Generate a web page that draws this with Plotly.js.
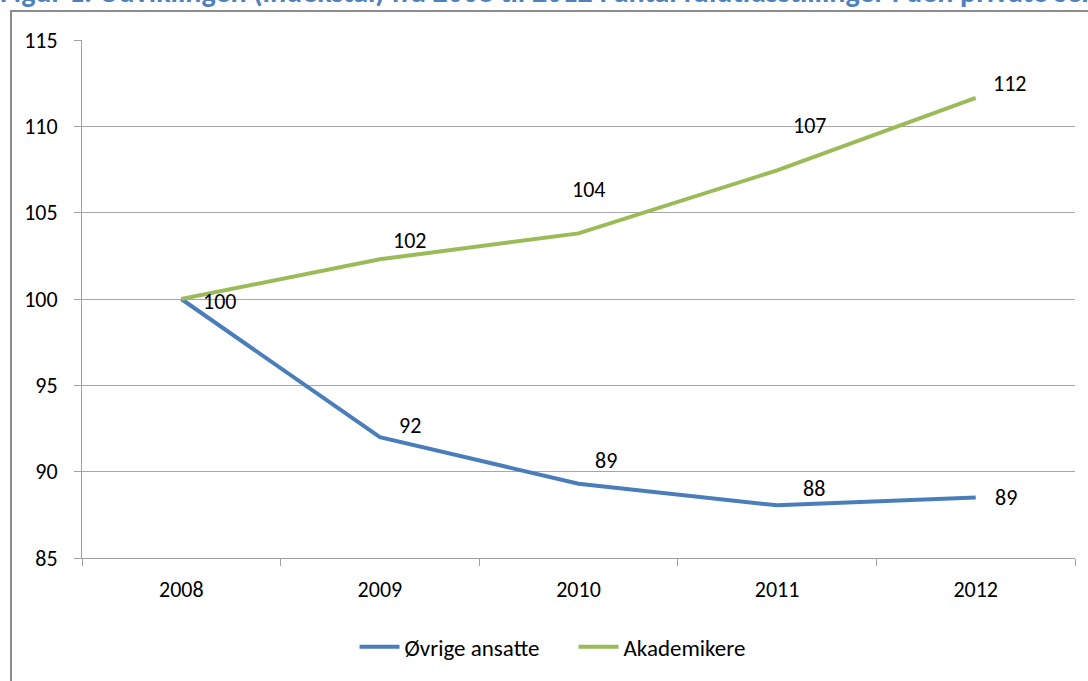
<!DOCTYPE html>
<html>
<head>
<meta charset="utf-8">
<script src="https://cdn.plot.ly/plotly-3.0.1.min.js"></script>
<style>html,body{margin:0;padding:0;background:#fff;}#chart{width:1088px;height:681px;}</style>
</head>
<body>
<div id="chart"></div>
<script>
const years = ['2008', '2009', '2010', '2011', '2012'];
const ovrigeAnsatte = [100, 92.0, 89.3, 88.05, 88.5];
const akademikere = [100, 102.3, 103.8, 107.45, 111.65];
const seriesNames = ['Øvrige ansatte', 'Akademikere'];
const titleText = 'Figur 1. Udviklingen (indekstal) fra 2008 til 2012 i antal fuldtidsstillinger i den private sektor';
const yTicks = [85, 90, 95, 100, 105, 110, 115];

// label pixel offsets (style only)
const blueLabelShift = [[null, null], [30, 12], [27, 23], [37, 17], [30, 0]];
const greenLabelShift = [[38, -2], [30, 19], [10, 44], [32, 45], [34, 14]];

const blue = '#4A7EBB';
const green = '#9BBB59';
const font = "Carlito, Calibri, 'Open Sans', sans-serif";

const traces = [
  {x: years, y: ovrigeAnsatte, name: seriesNames[0], type: 'scatter', mode: 'lines',
   line: {color: blue, width: 4}},
  {x: years, y: akademikere, name: seriesNames[1], type: 'scatter', mode: 'lines',
   line: {color: green, width: 4}}
];

const annotations = [];
function addLabels(vals, shifts) {
  vals.forEach((v, i) => {
    if (shifts[i][0] === null) return;
    annotations.push({x: i, y: v, xref: 'x', yref: 'y', text: String(Math.round(v)),
      showarrow: false, xshift: shifts[i][0], yshift: shifts[i][1],
      font: {family: font, size: 22, color: '#000'}});
  });
}
addLabels(ovrigeAnsatte, blueLabelShift);
addLabels(akademikere, greenLabelShift);

annotations.push({text: '<b>' + titleText + '</b>', xref: 'paper', yref: 'paper', x: -0.085, y: 1.0,
  xanchor: 'left', yanchor: 'bottom', yshift: 28, showarrow: false, align: 'left',
  font: {family: font, size: 30, color: '#4F81BD'}});

const layout = {
  width: 1088, height: 681,
  margin: {l: 82, r: 13, t: 40, b: 123},
  paper_bgcolor: '#fff', plot_bgcolor: '#fff',
  showlegend: true,
  legend: {orientation: 'h', x: 0.495, xanchor: 'center', y: -0.13, yanchor: 'top',
    font: {family: font, size: 23, color: '#000'}, itemwidth: 40, entrywidth: 164, traceorder: 'normal'},
  xaxis: {type: 'category', range: [-0.5, 4.5], showgrid: false, showline: true, linecolor: '#a0a0a0', linewidth: 1,
    ticks: 'outside', tickson: 'boundaries', ticklen: 7, tickcolor: '#a0a0a0', ticklabelstandoff: 12,
    tickfont: {family: font, size: 22, color: '#000'}, fixedrange: true},
  yaxis: {range: [85, 115], tickvals: yTicks, showgrid: true, gridcolor: '#a6a6a6', gridwidth: 1,
    showline: true, linecolor: '#a0a0a0', linewidth: 1, ticks: 'outside', ticklen: 7, tickcolor: '#a0a0a0',
    ticklabelstandoff: 12,
    tickfont: {family: font, size: 22, color: '#000'}, zeroline: false, fixedrange: true},
  annotations: annotations,
  shapes: [{type: 'rect', xref: 'paper', yref: 'paper', x0: -0.0715, x1: 1.2, y0: -0.5, y1: 1.056,
    line: {color: '#8c8c8c', width: 2}, fillcolor: 'rgba(0,0,0,0)', layer: 'below'}]
};

Plotly.newPlot('chart', traces, layout, {displayModeBar: false, staticPlot: true});
</script>
</body>
</html>
